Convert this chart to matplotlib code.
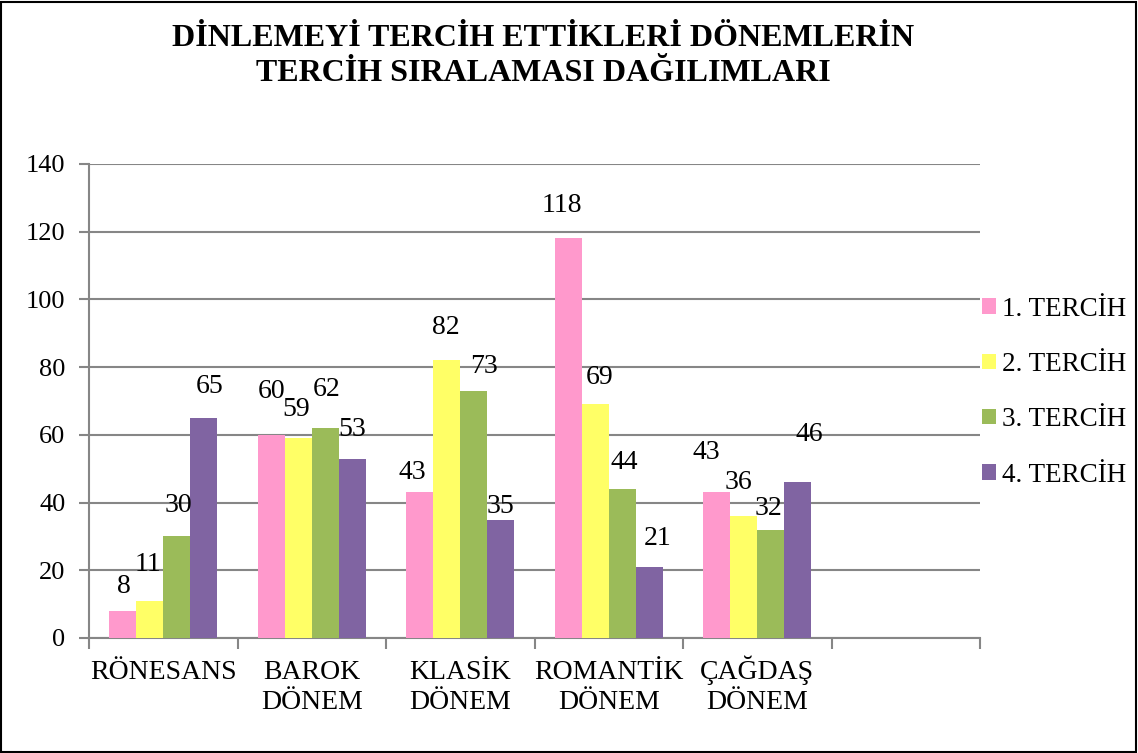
import matplotlib
matplotlib.use("Agg")
import matplotlib.pyplot as plt
from matplotlib.patches import Rectangle
import numpy as np

plt.rcParams['font.family'] = ['Liberation Serif', 'DejaVu Serif']

# ---- data ----
categories = ["RÖNESANS", "BAROK\nDÖNEM", "KLASİK\nDÖNEM", "ROMANTİK\nDÖNEM", "ÇAĞDAŞ\nDÖNEM"]
series_names = ["1. TERCİH", "2. TERCİH", "3. TERCİH", "4. TERCİH"]
tercih1 = [8, 60, 43, 118, 43]
tercih2 = [11, 59, 82, 69, 36]
tercih3 = [30, 62, 73, 44, 32]
tercih4 = [65, 53, 35, 21, 46]
series = [tercih1, tercih2, tercih3, tercih4]
title = "DİNLEMEYİ TERCİH ETTİKLERİ DÖNEMLERİN\nTERCİH SIRALAMASI DAĞILIMLARI"
yticks = [0, 20, 40, 60, 80, 100, 120, 140]

# ---- style ----
colors = ["#FF99CC", "#FFFF66", "#9BBB59", "#8064A2"]
grid_color = "#868686"
# manual label nudges (pixels, dx, dy) as in the reference
label_nudges = [
    [(1, 24), (0, 43), (-7, 20), (-6, 33), (-10, 40)],
    [(-2, 36), (-2, 29), (-1, 33), (4, 27), (-5, 34)],
    [(2, 31), (1, 39), (10, 24), (2, 27), (-2, 21)],
    [(6, 31), (0, 29), (0, 13), (8, 28), (12, 48)],
]

W, H = 1138, 753
fig = plt.figure(figsize=(W / 100, H / 100), dpi=100)
ax = fig.add_axes([89 / W, 1 - 638 / H, (980 - 89) / W, (638 - 164) / H])

n_slots = len(categories) + 1
bw = 0.182
x = np.arange(len(categories))
for i, (vals, name, col) in enumerate(zip(series, series_names, colors)):
    pos = x + (i - 1.5) * bw
    ax.bar(pos, vals, width=bw, color=col, label=name, zorder=3)
    for j, (px, v) in enumerate(zip(pos, vals)):
        dx, dy = label_nudges[i][j]
        ax.annotate(str(v), (px, v), xytext=(dx, dy), textcoords='offset pixels',
                    ha='center', va='center', fontsize=20, color='black', zorder=4)

ax.set_xlim(-0.5, n_slots - 0.5)
ax.set_ylim(0, 140)
ax.set_yticks(yticks)
ax.set_yticklabels([str(t) for t in yticks], fontsize=19)
ax.yaxis.grid(True, color=grid_color, linewidth=1.5, zorder=0)
ax.set_axisbelow(True)

ax.set_xticks(np.arange(n_slots + 1) - 0.5)
ax.set_xticklabels([])
ax.tick_params(axis='x', which='major', length=8, width=1.5, color=grid_color)
ax.tick_params(axis='y', length=7, width=1.5, color=grid_color, pad=10)

# category labels, each line on its own baseline
for xc, cat in zip(x, categories):
    for k, line in enumerate(cat.split("\n")):
        ax.annotate(line, (xc, 0), xycoords=('data', 'axes fraction'),
                    xytext=(0, -41 - 30 * k), textcoords='offset pixels',
                    ha='center', va='baseline', fontsize=20)

for s in ['top', 'right']:
    ax.spines[s].set_visible(False)
for s in ['left', 'bottom']:
    ax.spines[s].set_color(grid_color)
    ax.spines[s].set_linewidth(1.5)

fig.text(543 / W, 1 - 56 / H, title, ha='center', va='center', fontsize=23,
         fontweight='bold', linespacing=1.25)

leg = fig.legend(loc='center left', bbox_to_anchor=(982 / W, 1 - 392 / H),
                 frameon=False, fontsize=19.5, handlelength=0.5, handleheight=0.5,
                 handletextpad=0.25, labelspacing=1.12, borderpad=0, borderaxespad=0)

fig.patches.append(Rectangle((1 / W, 1 / H), (W - 3) / W, (H - 3) / H,
                             transform=fig.transFigure, fill=False,
                             edgecolor='black', linewidth=1.5))

fig.savefig("out.png", dpi=100)
